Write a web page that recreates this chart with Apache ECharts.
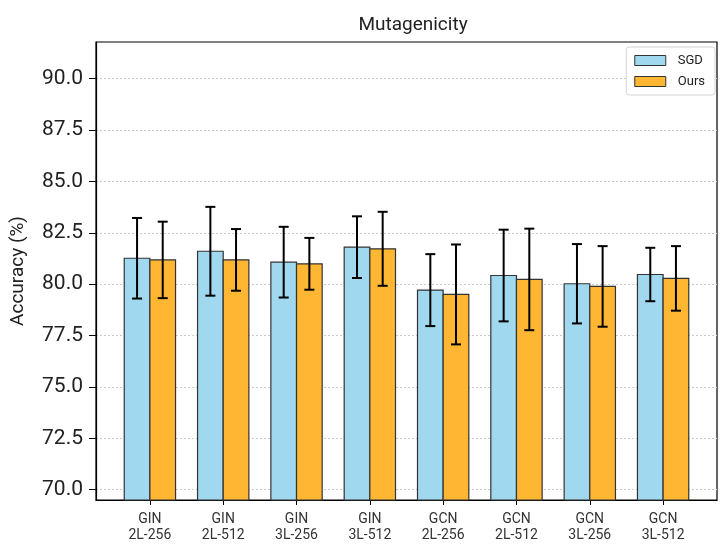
<!DOCTYPE html>
<html>
<head>
<meta charset="utf-8">
<script src="https://cdn.jsdelivr.net/npm/echarts@6/dist/echarts.min.js"></script>
<style>
  html, body { margin: 0; padding: 0; background: #fff; }
  #chart { width: 721px; height: 544px; }
</style>
</head>
<body>
<div id="chart"></div>
<script>
// Model / configuration names along the x axis
const CATEGORIES = [
  'GIN\n2L-256', 'GIN\n2L-512', 'GIN\n3L-256', 'GIN\n3L-512',
  'GCN\n2L-256', 'GCN\n2L-512', 'GCN\n3L-256', 'GCN\n3L-512'
];

// Mean accuracy (%) and standard deviation for each optimiser
const SGD_MEAN = [81.26, 81.60, 81.07, 81.80, 79.71, 80.42, 80.02, 80.47];
const SGD_STD  = [1.96, 2.16, 1.72, 1.50, 1.75, 2.23, 1.93, 1.30];
const OURS_MEAN = [81.18, 81.18, 80.99, 81.72, 79.50, 80.23, 79.89, 80.28];
const OURS_STD  = [1.86, 1.50, 1.26, 1.80, 2.43, 2.47, 1.96, 1.57];

// Y axis tick values
const Y_TICKS = [70, 72.5, 75, 77.5, 80, 82.5, 85, 87.5, 90];
const X_TICKS = CATEGORIES.map((_, i) => i);

// Axis ranges
const Y_MIN = 69.5, Y_MAX = 91.78;
const X_MIN = -0.735, X_MAX = 7.735;
const BAR_W = 0.35;

const FONT = 'Roboto, "Noto Sans", sans-serif';

function barRenderer(offset) {
  return function (params, api) {
    const i = api.value(0);
    const v = api.value(1);
    const e = api.value(2);
    const cx = i + offset;
    const tl = api.coord([cx - BAR_W / 2, v]);
    const br = api.coord([cx + BAR_W / 2, Y_MIN]);
    const c = api.coord([cx, v]);
    const hi = api.coord([cx, v + e]);
    const lo = api.coord([cx, v - e]);
    const style = api.style();
    const cap = 5;
    const errStyle = { stroke: '#000', lineWidth: 2, fill: null };
    return {
      type: 'group',
      children: [
        {
          type: 'rect',
          shape: { x: tl[0], y: tl[1], width: br[0] - tl[0], height: br[1] - tl[1] },
          style: { fill: style.fill, stroke: '#333', lineWidth: 1.2 }
        },
        { type: 'line', shape: { x1: c[0], y1: hi[1], x2: c[0], y2: lo[1] }, style: errStyle, z2: 10 },
        { type: 'line', shape: { x1: c[0] - cap, y1: hi[1], x2: c[0] + cap, y2: hi[1] }, style: errStyle, z2: 10 },
        { type: 'line', shape: { x1: c[0] - cap, y1: lo[1], x2: c[0] + cap, y2: lo[1] }, style: errStyle, z2: 10 }
      ]
    };
  };
}

const chart = echarts.init(document.getElementById('chart'), null, { renderer: 'canvas' });

const axisLineStyle = { color: '#000', width: 1.2 };

chart.setOption({
  animation: false,
  backgroundColor: '#fff',
  title: {
    text: 'Mutagenicity',
    left: 408,
    textAlign: 'center',
    top: 11,
    textStyle: { fontFamily: FONT, fontSize: 19, fontWeight: 'normal', color: '#222' }
  },
  legend: {
    data: ['SGD', 'Ours'],
    orient: 'vertical',
    right: 6,
    top: 47,
    icon: 'rect',
    itemWidth: 31,
    itemHeight: 10,
    itemGap: 8,
    padding: [7, 10, 7, 8],
    backgroundColor: '#fff',
    borderColor: '#d4d4d4',
    borderWidth: 1,
    borderRadius: 3,
    textStyle: { fontFamily: FONT, fontSize: 13, color: '#222', padding: [0, 0, 0, 7] },
    itemStyle: { borderColor: '#333', borderWidth: 1 }
  },
  grid: {
    left: 96, right: 4, top: 42, bottom: 44,
    show: true,
    borderColor: '#000',
    borderWidth: 1.2,
    containLabel: false
  },
  xAxis: {
    type: 'value',
    min: X_MIN,
    max: X_MAX,
    axisLine: { show: true, onZero: false, lineStyle: axisLineStyle },
    splitLine: { show: false },
    axisTick: { show: true, customValues: X_TICKS, length: 5, lineStyle: { color: '#000', width: 1 } },
    axisLabel: {
      customValues: X_TICKS,
      formatter: (v) => CATEGORIES[Math.round(v)],
      fontFamily: FONT,
      fontSize: 14,
      lineHeight: 16,
      color: '#333',
      margin: 11
    }
  },
  yAxis: {
    type: 'value',
    min: Y_MIN,
    max: Y_MAX,
    name: 'Accuracy (%)',
    nameLocation: 'middle',
    nameGap: 68,
    nameTextStyle: { fontFamily: FONT, fontSize: 19, color: '#222' },
    axisLine: { show: true, onZero: false, lineStyle: axisLineStyle },
    axisTick: { show: true, customValues: Y_TICKS, length: 7, lineStyle: { color: '#000', width: 1 } },
    axisLabel: {
      customValues: Y_TICKS,
      formatter: (v) => v.toFixed(1),
      fontFamily: FONT,
      fontSize: 21,
      color: '#222',
      margin: 13
    },
    splitLine: { show: true, lineStyle: { color: '#cccccc', type: [2, 2], width: 1 } }
  },
  series: [
    {
      name: 'SGD',
      type: 'custom',
      renderItem: barRenderer(-BAR_W / 2),
      itemStyle: { color: '#9fd8ef', borderColor: '#333', borderWidth: 1 },
      encode: { x: 0, y: 1 },
      data: SGD_MEAN.map((v, i) => [i, v, SGD_STD[i]])
    },
    {
      name: 'Ours',
      type: 'custom',
      renderItem: barRenderer(BAR_W / 2),
      itemStyle: { color: '#ffb733', borderColor: '#333', borderWidth: 1 },
      encode: { x: 0, y: 1 },
      data: OURS_MEAN.map((v, i) => [i, v, OURS_STD[i]])
    }
  ]
});
</script>
</body>
</html>
